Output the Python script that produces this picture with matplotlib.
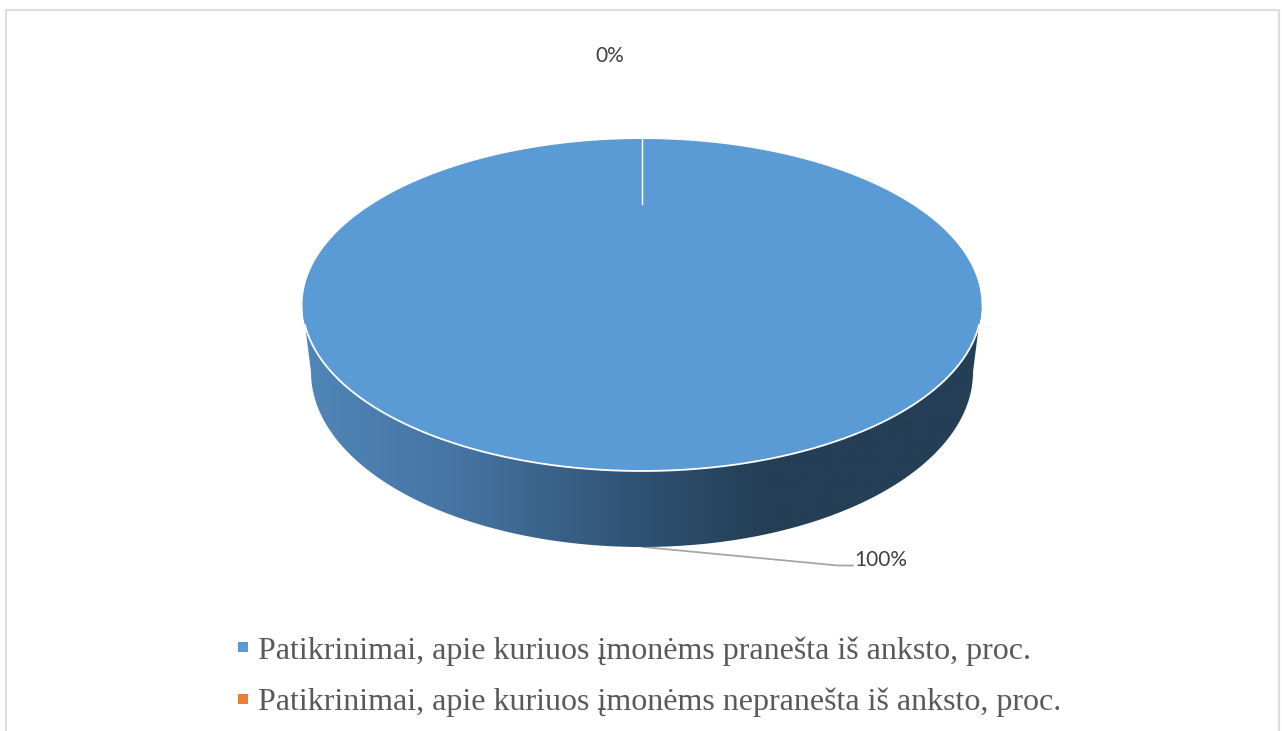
import numpy as np
import matplotlib
matplotlib.use("Agg")
import matplotlib.pyplot as plt
from matplotlib.colors import LinearSegmentedColormap
from matplotlib.lines import Line2D
from matplotlib.patches import Polygon

categories = [
    "Patikrinimai, apie kuriuos įmonėms pranešta iš anksto, proc.",
    "Patikrinimai, apie kuriuos įmonėms nepranešta iš anksto, proc.",
]
shares = [100, 0]
colors = ["#5b9bd5", "#ed7d31"]

W, H = 1286, 731
cx, cy, rx, ry = 642, 305, 339.5, 166
# lower rim is a bit narrower, the pie is seen in perspective
cy_low, rx_low, ry_low = 372, 331, 175


def rim(a, b, n=400, c=cy, w=rx, h=ry):
    # points on an ellipse, angles clockwise from 12 o'clock
    t = np.radians(np.linspace(a, b, n))
    return np.column_stack([cx + w * np.sin(t), c - h * np.cos(t)])


fig = plt.figure(figsize=(W / 100, H / 100), dpi=100)
ax = fig.add_axes([0, 0, 1, 1])
ax.set_xlim(0, W)
ax.set_ylim(H, 0)
ax.axis("off")

# outer chart frame, cut off at the bottom
ax.plot([6, 6, 1279, 1279], [H + 5, 10, 10, H + 5], color="#dedede", lw=1.6, zorder=1)

# pie side with horizontal shading
side = np.vstack([rim(90, 270), rim(270, 90, c=cy_low, w=rx_low, h=ry_low)])
shade = LinearSegmentedColormap.from_list(
    "side",
    [(0, "#5086b8"), (0.22, "#4675a3"), (0.5, "#2f5172"), (0.68, "#243f56"), (1, "#243f56")],
)
img = ax.imshow(np.linspace(0, 1, 512)[None, :], extent=[cx - rx, cx + rx, H, 0],
                cmap=shade, aspect="auto", zorder=2)
clip = Polygon(side, closed=True, transform=ax.transData, fc="none", ec="none")
ax.add_patch(clip)
img.set_clip_path(clip)
ax.set_xlim(0, W)
ax.set_ylim(H, 0)

# top face, one wedge per share
start = 0
for share, col in zip(shares, colors):
    end = start + share / sum(shares) * 360
    pts = rim(start, end)
    ax.add_patch(Polygon(np.vstack([[cx, cy], pts]), closed=True, fc=col, ec="none", zorder=3))
    start = end
ax.plot(*rim(97, 263).T, color="white", lw=1.3, zorder=4)
ax.plot([cx, cx], [cy - ry, 204], color="white", lw=1.0, zorder=4)

# data labels
label_font = ["Lato", "DejaVu Sans"]
ax.plot([643, 838, 853], [547, 565.5, 565.5], color="#a6a6a6", lw=1.3, zorder=1.5)
ax.text(881, 559.5, f"{shares[0]}%", ha="center", va="center", fontsize=15,
        color="#404040", family=label_font)
ax.text(610, 56, f"{shares[1]}%", ha="center", va="center", fontsize=15,
        color="#404040", family=label_font)

# legend
handles = [Line2D([], [], ls="none", marker="s", ms=7.3, mew=0, color=c) for c in colors]
ax.legend(handles, categories, loc="upper left", bbox_to_anchor=(227 / W, 1 - 636 / H),
          frameon=False, labelcolor="#595959",
          prop={"family": "Liberation Serif", "size": 23},
          handletextpad=-0.03, handlelength=1.0, labelspacing=0.70,
          borderpad=0, borderaxespad=0)

plt.savefig("out.png", dpi=100)
